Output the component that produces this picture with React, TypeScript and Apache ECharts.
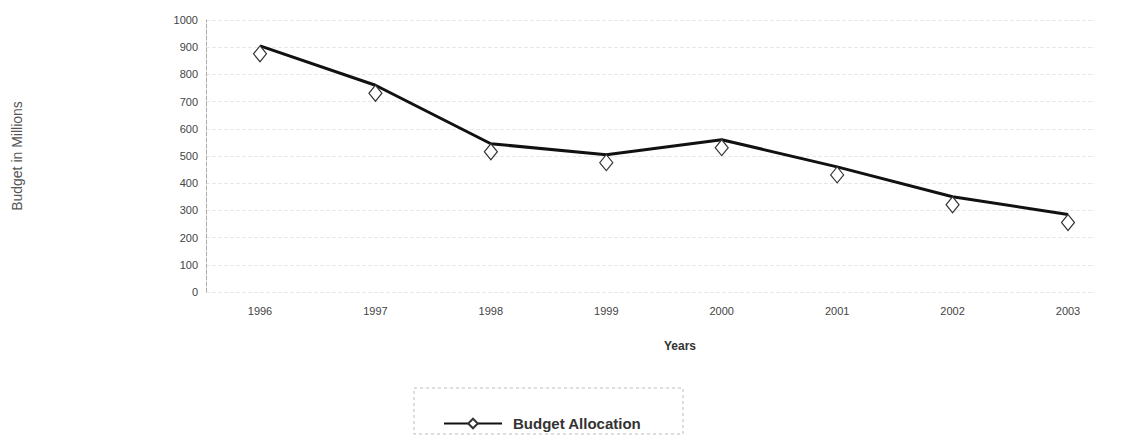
import React, { useEffect, useRef } from "react";
import * as echarts from "echarts";

const years = ["1996", "1997", "1998", "1999", "2000", "2001", "2002", "2003"];
const budget = [905, 760, 545, 505, 560, 460, 350, 285];
const seriesName = "Budget Allocation";
const yMin = 0;
const yMax = 1000;
const yStep = 100;

const FONT = "'Liberation Sans', Arial, sans-serif";

export default function App() {
  const ref = useRef<HTMLDivElement>(null);
  useEffect(() => {
    document.body.style.margin = "0";
    if (!ref.current) return;
    const chart = echarts.init(ref.current, undefined, { renderer: "svg" });
    chart.setOption({
      animation: false,
      backgroundColor: "#ffffff",
      grid: [
        { left: 260, right: 55, top: 20, bottom: 148 },
        { left: 206, right: 28, top: 20, bottom: 148 },
      ],
      xAxis: [
        {
          type: "category",
          gridIndex: 0,
          data: years,
          boundaryGap: false,
          axisLine: { show: false },
          axisTick: { show: false },
          axisLabel: { margin: 13, color: "#444", fontSize: 11, fontFamily: FONT },
          splitLine: { show: false },
        },
        {
          type: "value",
          gridIndex: 1,
          min: 0,
          max: 1,
          show: false,
        },
      ],
      yAxis: [
        {
          type: "value",
          gridIndex: 0,
          min: yMin,
          max: yMax,
          interval: yStep,
          show: false,
        },
        {
          type: "value",
          gridIndex: 1,
          min: yMin,
          max: yMax,
          interval: yStep,
          name: "Budget in Millions",
          nameLocation: "middle",
          nameGap: 182,
          nameRotate: 90,
          nameTextStyle: { color: "#555", fontSize: 14, fontFamily: FONT },
          axisLine: { show: true, lineStyle: { color: "#aaa", type: "dashed", width: 1 } },
          axisTick: { show: false },
          axisLabel: {
            margin: 8,
            color: "#444",
            fontSize: 11,
            fontFamily: FONT,
            formatter: (v: number) => String(v),
          },
          splitLine: { show: true, lineStyle: { color: "#e8e8e8", type: "dashed", width: 1 } },
        },
      ],
      legend: {
        data: [seriesName],
        left: 438,
        top: 411,
        itemWidth: 58,
        itemHeight: 12,
        textStyle: {
          color: "#333",
          fontSize: 15,
          fontWeight: "bold",
          fontFamily: FONT,
          padding: [0, 0, 0, 6],
        },
      },
      graphic: [
        {
          type: "rect",
          shape: { x: 414, y: 388, width: 269, height: 46 },
          style: { fill: "none", stroke: "#bbb", lineWidth: 1, lineDash: [3, 3] },
          silent: true,
        },
        {
          type: "text",
          x: 680,
          y: 346,
          style: {
            text: "Years",
            fill: "#333",
            font: `bold 12px ${FONT}`,
            textAlign: "center",
            textVerticalAlign: "middle",
          },
        },
      ],
      series: [
        {
          name: seriesName,
          type: "line",
          xAxisIndex: 0,
          yAxisIndex: 0,
          data: budget,
          symbol: "diamond",
          symbolSize: [13, 16],
          symbolOffset: [0, 8],
          showAllSymbol: true,
          lineStyle: { color: "#111", width: 3 },
          itemStyle: { color: "#ffffff", borderColor: "#333", borderWidth: 1.2 },
        },
      ],
    });
    return () => chart.dispose();
  }, []);
  return <div ref={ref} style={{ width: 1123, height: 440 }} />;
}
